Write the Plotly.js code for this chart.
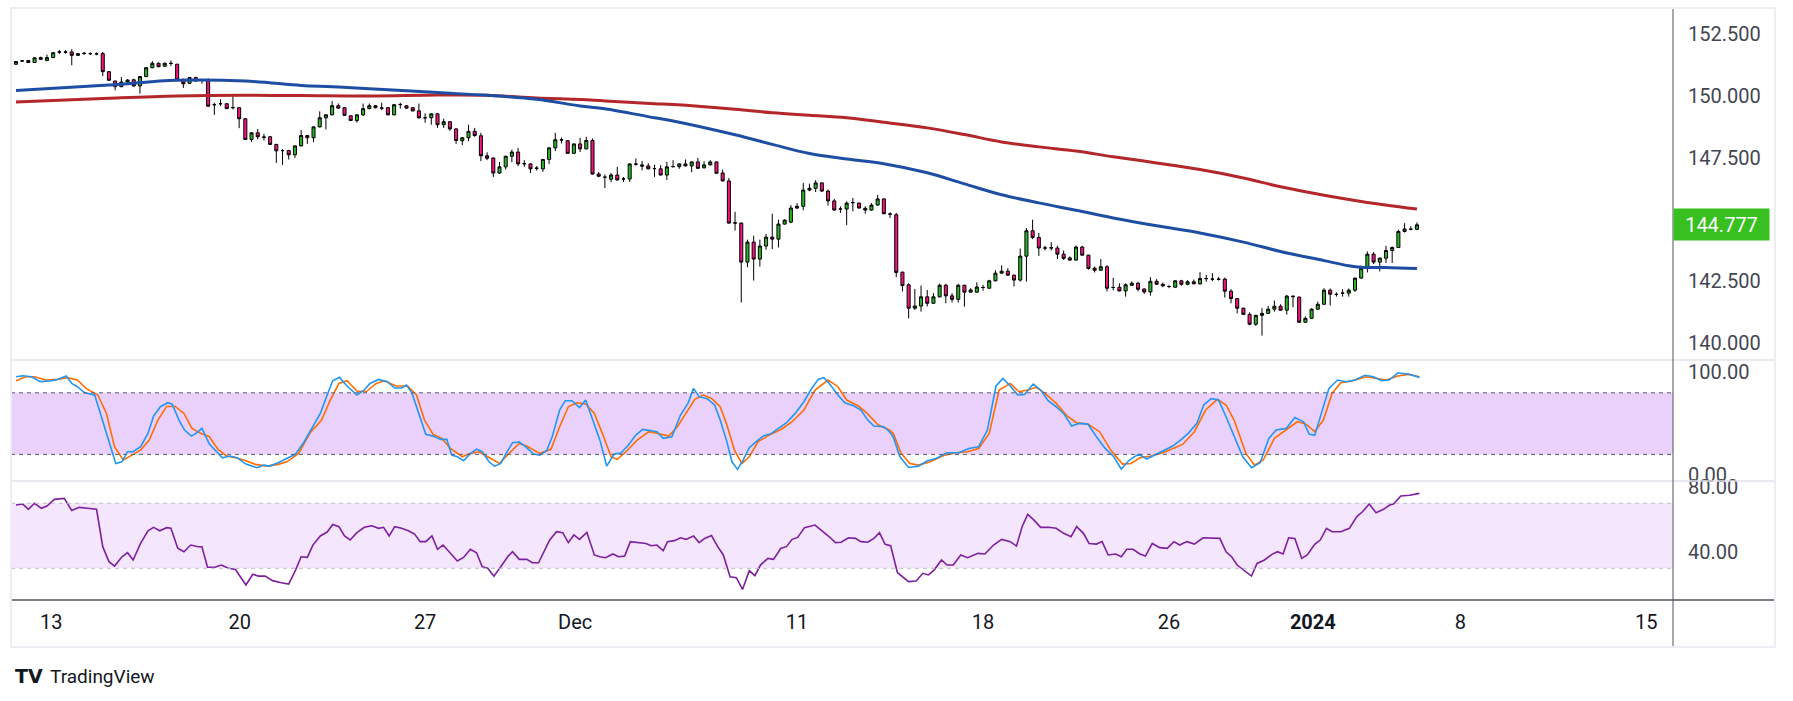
<!DOCTYPE html>
<html><head><meta charset="utf-8">
<script src="https://cdn.plot.ly/plotly-3.0.1.min.js"></script>
<style>html,body{margin:0;padding:0;background:#fff;overflow:hidden;} #chart{width:1793px;height:701px;}</style>
</head><body><div id="chart"></div>
<script>
// ---- 4H candles, bar index 0..226 (Nov 10 2023 -> Jan 5 2024) ----
const opens = [151.29,151.42,151.44,151.36,151.56,151.44,151.56,151.78,151.79,151.79,
151.65,151.73,151.72,151.72,151.72,150.99,150.61,150.38,150.57,150.66,
150.41,150.79,151.15,151.33,151.21,151.33,151.29,150.68,150.52,150.75,
150.63,150.65,149.65,149.69,149.69,149.53,149.53,149.08,148.24,148.51,
148.34,148.35,148.04,147.79,147.79,147.62,147.98,148.40,148.31,148.75,
149.12,149.24,149.61,149.53,149.20,149.01,149.24,149.49,149.61,149.52,
149.53,149.24,149.65,149.61,149.53,149.40,149.12,149.12,149.28,148.84,
148.96,148.67,148.19,148.31,148.57,148.39,147.58,147.49,146.88,147.13,
147.56,147.73,147.25,147.25,147.07,147.05,147.43,147.90,148.23,148.19,
147.68,148.06,147.86,148.20,146.84,146.71,146.63,146.80,146.64,146.64,
147.24,147.21,147.17,147.06,147.05,146.80,147.14,147.14,147.25,147.17,
147.33,147.09,147.21,147.33,146.88,146.56,144.85,144.85,143.27,144.08,
143.39,143.92,144.28,144.20,144.81,144.89,145.46,145.53,146.19,146.26,
146.48,146.15,145.75,145.42,145.42,145.68,145.66,145.45,145.38,145.58,
145.83,145.22,145.19,142.86,142.35,141.40,141.49,141.86,141.60,141.86,
142.33,141.90,141.76,142.33,142.05,142.05,142.24,142.21,142.51,142.82,
142.90,142.74,142.54,143.51,144.54,144.27,143.84,143.84,143.84,143.59,
143.44,143.35,143.88,143.55,143.02,142.94,143.08,142.24,142.25,142.10,
142.33,142.41,142.18,142.06,142.49,142.37,142.28,142.25,142.51,142.37,
142.47,142.39,142.60,142.58,142.58,142.58,142.09,141.79,141.40,141.15,
140.75,141.11,141.19,141.36,141.48,141.32,141.87,141.85,140.83,140.99,
141.36,141.56,142.13,141.96,142.01,142.01,142.13,142.62,143.02,143.59,
143.27,143.43,143.74,143.86,144.51,144.60,144.60];
const highs = [151.42,151.46,151.46,151.57,151.60,151.68,151.78,151.87,151.86,151.90,
151.74,151.79,151.77,151.77,151.79,151.00,150.62,150.77,150.68,150.70,
150.80,151.16,151.42,151.36,151.36,151.44,151.31,150.70,150.77,150.78,
150.68,150.72,149.73,149.87,149.71,150.03,149.55,149.10,148.53,148.67,
148.47,148.37,148.06,147.85,147.82,148.00,148.62,148.42,148.77,149.38,
149.26,149.80,149.70,149.55,149.22,149.26,149.70,149.70,149.64,149.73,
149.55,149.67,149.73,149.63,149.55,149.70,149.30,149.30,149.30,149.08,
148.98,148.69,148.33,148.84,148.71,148.51,147.72,147.51,147.33,147.58,
147.83,147.90,147.40,147.27,147.16,147.45,147.92,148.51,148.32,148.21,
148.08,148.31,148.35,148.28,146.92,146.82,146.88,147.13,146.72,147.27,
147.47,147.37,147.28,147.21,147.20,147.33,147.40,147.27,147.43,147.35,
147.49,147.36,147.40,147.35,147.02,146.68,145.31,144.87,144.18,144.34,
144.18,144.41,145.23,144.99,145.01,145.58,145.66,146.48,146.45,146.59,
146.50,146.21,145.83,145.53,145.73,145.87,145.68,145.53,145.66,145.99,
145.85,145.29,145.26,142.88,142.41,142.18,142.32,142.14,142.01,142.39,
142.39,142.01,142.39,142.35,142.21,142.45,142.35,142.55,142.94,143.14,
143.02,142.76,143.82,144.65,144.99,144.45,143.93,144.08,143.93,143.74,
143.50,143.94,143.93,143.57,143.09,143.39,143.14,142.63,142.41,142.41,
142.49,142.47,142.20,142.66,142.58,142.44,142.33,142.53,142.55,142.54,
142.56,142.86,142.75,142.82,142.66,142.64,142.17,141.81,141.42,141.23,
141.13,141.40,141.49,141.71,141.56,141.94,141.93,141.87,141.06,141.40,
141.67,142.21,142.20,142.04,142.17,142.20,142.64,143.12,143.70,143.67,
143.45,143.93,143.90,144.58,144.85,144.72,144.88];
const lows = [151.27,151.38,151.34,151.34,151.47,151.42,151.54,151.71,151.72,151.25,
151.63,151.67,151.67,151.66,150.81,150.62,150.23,150.36,150.55,150.38,
150.10,150.77,151.13,151.17,151.19,151.22,150.63,150.33,150.49,150.59,
150.50,149.57,149.24,149.59,149.47,149.46,148.70,148.22,148.14,148.24,
148.20,148.02,147.29,147.21,147.43,147.49,147.96,148.06,148.13,148.73,
148.65,149.22,149.49,149.20,148.99,148.92,149.19,149.47,149.50,149.43,
149.22,149.22,149.49,149.49,149.38,149.08,148.92,148.84,148.71,148.71,
148.59,148.06,148.01,148.17,148.35,147.36,147.40,146.72,146.84,147.02,
147.32,147.16,147.13,146.88,146.98,146.93,147.25,147.77,148.08,147.66,
147.66,147.73,147.84,146.82,146.71,146.27,146.51,146.58,146.52,146.52,
147.18,146.99,147.03,146.72,146.78,146.60,147.11,147.05,147.15,146.91,
147.05,147.07,147.19,146.84,146.54,144.83,144.55,141.63,143.06,142.52,
143.09,143.77,143.80,143.86,144.79,144.85,145.42,145.37,146.14,146.11,
146.11,145.56,145.35,145.26,144.77,145.33,145.44,145.23,145.35,145.56,
145.21,145.06,142.66,142.08,140.99,141.33,141.26,141.47,141.58,141.84,
141.60,141.63,141.63,141.46,142.03,142.03,142.11,142.19,142.49,142.80,
142.72,142.28,142.48,142.48,144.20,143.52,143.74,143.74,143.39,143.36,
143.33,143.33,143.53,142.96,142.85,142.92,142.08,142.12,142.08,141.87,
142.31,142.09,141.98,141.91,142.35,142.25,142.21,142.23,142.31,142.33,
142.37,142.35,142.47,142.50,142.52,141.83,141.60,141.19,141.13,140.71,
140.68,140.29,141.17,141.26,141.30,141.14,141.44,140.81,140.81,140.97,
141.34,141.54,141.51,141.87,141.87,141.87,142.06,142.60,142.85,143.19,
142.89,143.23,143.23,143.84,144.47,144.56,144.56];
const closes = [151.40,151.43,151.36,151.55,151.49,151.56,151.76,151.79,151.78,151.65,
151.72,151.73,151.72,151.71,150.99,150.64,150.38,150.57,150.65,150.41,
150.79,151.15,151.33,151.19,151.33,151.32,150.65,150.50,150.75,150.61,
150.64,149.59,149.65,149.69,149.49,149.53,149.08,148.24,148.51,148.35,
148.33,148.04,147.78,147.79,147.62,147.98,148.40,148.31,148.75,149.12,
149.24,149.61,149.51,149.22,149.01,149.24,149.49,149.61,149.53,149.51,
149.24,149.65,149.66,149.51,149.40,149.12,149.12,149.28,148.84,148.96,
148.67,148.20,148.31,148.57,148.40,147.58,147.48,146.88,147.13,147.56,
147.73,147.25,147.26,147.05,147.08,147.43,147.90,148.23,148.22,147.68,
148.06,147.86,148.20,146.84,146.75,146.71,146.80,146.60,146.64,147.25,
147.24,147.16,147.05,147.06,146.80,147.13,147.14,147.25,147.17,147.33,
147.07,147.21,147.33,146.87,146.56,144.85,144.86,143.27,144.08,143.39,
143.92,144.28,144.20,144.81,144.97,145.46,145.53,146.19,146.26,146.48,
146.15,145.75,145.38,145.42,145.66,145.68,145.46,145.38,145.58,145.83,
145.23,145.21,142.85,142.32,141.40,141.49,141.86,141.60,141.86,142.33,
141.90,141.76,142.33,142.05,142.14,142.26,142.24,142.51,142.82,142.90,
142.74,142.54,143.51,144.54,144.27,143.84,143.84,143.85,143.59,143.42,
143.35,143.88,143.55,143.01,142.94,143.08,142.21,142.24,142.10,142.35,
142.41,142.17,142.06,142.49,142.37,142.31,142.28,142.51,142.37,142.47,
142.39,142.60,142.60,142.58,142.57,142.09,141.79,141.40,141.15,140.75,
141.11,141.19,141.36,141.48,141.32,141.89,141.88,140.83,140.99,141.36,
141.56,142.13,141.97,141.96,142.01,142.13,142.62,143.02,143.59,143.27,
143.43,143.74,143.86,144.51,144.61,144.60,144.78];
const lastPrice = 144.777;

// ---- moving averages (read at sample bars) ----
const maBlueBars = [0,15,26,37,46,51,57,68,76,84,91,95,103,106,116,122,128,134,140,147,153,159,165,171,177,184,191,198,204,211,215,217,221,226];
const maBlue = [150.23,150.45,150.64,150.61,150.43,150.38,150.30,150.14,150.03,149.87,149.60,149.49,149.12,148.99,148.43,148.04,147.67,147.45,147.26,146.89,146.44,146.00,145.67,145.37,145.06,144.74,144.45,144.08,143.70,143.33,143.12,143.06,143.05,143.01];
const maRedBars = [0,15,26,37,46,57,68,76,84,91,95,103,106,116,122,128,134,140,147,153,159,165,171,177,184,191,198,204,211,217,226];
const maRed = [149.76,149.91,150.00,150.03,150.02,150.00,150.04,150.03,149.92,149.86,149.80,149.69,149.66,149.47,149.32,149.22,149.12,148.94,148.71,148.44,148.14,147.94,147.77,147.54,147.29,147.02,146.68,146.32,145.98,145.73,145.42];

// ---- stochastic %K (blue) ----
const stochKBars = [0,1.1,2.5,3.9,5.8,6.7,8.1,9,9.9,11.1,12.7,13.6,15,16.1,17.1,18,18.9,20.1,21.3,22.2,23.3,24.5,25.2,26.3,27.2,28.3,29.2,30,31.2,32.1,33.3,34.5,35.7,37.1,38.9,40,40.9,42.3,43.7,45.1,46.5,47.9,49.1,50.2,51.1,52.2,53.4,55,56.2,57.1,58.5,59.9,61.1,62.2,63,63.9,65,66.1,67.3,68.5,69.5,70.3,71.2,72.2,73.2,74.3,75.2,76.3,77.2,78.2,79.1,80.1,81.2,82.2,83.5,84.5,85.6,86.5,87.7,88.6,89.7,90.9,91.9,92.8,94.2,95.3,96.5,97.6,98.8,100,101.1,102.5,103.4,104.4,105.8,107.2,108.4,109.3,110.2,111.5,112.7,113.6,114.6,115.5,116.4,117.3,118.3,119.5,120.6,121.7,122.9,124.3,125.7,127.1,128.2,129.4,130.3,131.2,132.6,133.7,135.2,136.3,137.4,138.4,140,140.9,141.5,142.6,144,145.6,147,148.4,150.2,152.1,153.7,155.3,156.7,158.1,159.2,160.4,161.6,162.7,164.1,165.3,166.5,167.8,169,170.3,171.5,172.9,174.3,175.7,177.1,178.3,179.6,181.1,182.4,183.9,185.2,186.6,188,189.1,190.5,191.6,192.8,194,195.2,196.5,197.9,199.3,200.7,202.1,203.3,204.9,206.3,207.7,208.6,209.5,210.7,211.8,213.2,214.6,216,217.6,219,220.3,221.5,222.9,224.6,226.4];
const stochK = [95.6,96.6,95.6,90.8,91.7,93,96.3,89.1,85.9,80,77.8,59.9,33.9,11.2,12.8,22.6,22.6,27.5,40.5,57.3,66.4,70.3,69,53.4,43.7,37.8,41.1,45.3,30.1,24.2,16.7,18.4,16.7,10.6,7,9.6,8.6,11.9,16.1,20.3,32.3,46.9,59.9,77.8,91.7,95,86.6,77.8,82.7,89.1,93,90.8,84.6,84.6,87.5,79.4,59.9,39.5,37.8,34.6,34.6,19.3,17.7,13.8,20.3,25.2,22.6,12.8,8.6,11.2,21.3,31.4,32,27.5,20.3,19.3,23.6,37.2,63.2,72.3,72.3,65.5,72.9,58.3,33.9,8.6,20.3,21.3,29.1,38.8,44.3,43,42.1,35.6,37.2,58.3,69.7,84.3,76.2,74.2,68.1,53.4,33.9,12.8,5.4,14.5,26.5,33,38.2,39.8,45.3,50.8,59.9,71.3,82.7,93,94.7,89.1,77.8,70.3,67.1,63.2,53.4,47.6,46.9,42.1,37.2,17.7,7.3,8.6,13.8,16.1,21.6,21.6,25.8,27.5,43.7,86.6,94,86.6,77.8,78.4,88.5,82.7,72.3,66.4,59.9,47.6,50.2,49.5,37.2,25.8,17.7,5.7,14.5,20.3,15.5,20,24.2,28.1,34.6,40.5,50.2,68.1,74.2,72.9,56.7,37.2,17.7,7,11.9,35.6,43.7,45.3,56,51.8,39.8,38.5,61.6,84.3,92.4,90.8,92.4,97,95.6,91.7,92.4,99.2,98.2,95];

// ---- stochastic %D (orange) ----
const stochDBars = [0,1.6,3,4.8,6.7,8.3,9.9,11.3,13.2,14.6,15.9,17.3,18.7,20.1,21.5,22.9,24.3,25.7,27.1,28.4,29.8,31.2,32.6,34,35.4,36.8,38.6,40.5,42.3,43.7,45.6,47.4,49.3,50.7,52.1,53.4,55,56.5,58.1,59.5,61.3,63.2,64.6,65.9,67.3,68.7,70.1,72,73.3,74.7,76.1,78,79.8,81.2,82.6,84.5,86.3,87.7,89.1,90.5,91.9,93.3,94.7,96,97,98.4,100.2,102.1,103.4,105.3,106.7,108.1,109.5,110.9,112.2,113.6,114.6,115.9,117.1,118.3,119.7,121.5,123.4,125.2,127.1,128.9,131,132.6,134,135.9,137.3,139.1,140.9,141.5,142.8,144.2,145.6,147.5,149.8,151.6,153.5,155.3,157,158.6,160.4,161.8,163.2,164.6,166,167.8,169.7,171.1,172.9,174.8,176.6,178.5,179.9,181.3,183.1,185,186.8,188.2,190.1,191.9,193.8,195.2,196.5,198.4,199.8,201.2,203,204.9,206.7,208.1,209.5,210.9,212.3,213.7,215.5,217.8,219.7,221.1,222.9,224.6,226.4];
const stochD = [91.7,95.6,95.6,92.4,93,94.7,92.4,84.3,77.8,59.9,27.5,14.5,19.3,24.2,33.9,53.4,66.7,66.7,59.9,45.3,40.5,37.2,24.9,18.4,16.7,14.5,10.3,8.6,10.3,12.8,21,40.5,53.4,72.9,89.1,91.7,81.7,81,89.1,91.7,86.6,86.6,77.8,53.4,39.5,35.6,25.8,17.7,21,22.6,17.7,11.2,22.6,30.7,27.5,21,24.9,46.9,66.4,70.3,69,59.9,38.8,17.7,15.1,22.6,33.9,42.1,40.5,37.8,46.9,59.9,73.6,77.8,74.5,66.4,50.2,24.2,11.2,17.7,32.3,38.8,44.3,51.8,63.2,82.7,92.4,85.9,72.9,67.1,59.9,48.6,43.7,40.5,21,11.2,9.6,12.8,19.3,21.6,22.6,25.8,40.5,82.7,89.1,81,82.7,85.3,79.4,69.7,56.7,50.8,49.5,42.1,24.2,10.6,11.2,16.7,18.4,21.6,25.8,29.7,42.1,63.2,73.6,68.1,53.4,21,9.6,14.5,35.6,44.3,51.8,49.5,42.1,53.4,79.4,89.8,91.4,95.6,94,92.4,96.3,97.9,95.6];

// ---- RSI (purple) ----
const rsiBars = [0,1.1,2,3,4.1,5,6.2,7.8,9,10.2,11.5,13,14,15,15.9,17.1,18,18.9,20.1,21.3,22.2,23.2,24.3,25,26.1,27.1,28.2,29.4,30,30.9,32.1,33.1,34.3,35.4,36.3,37.1,38.2,39.1,40.2,41.4,42.8,44,45.1,46,47,47.9,49.1,50.2,51.1,52.1,53,53.9,55,56.2,57.4,58.5,59.3,60.2,61.1,62.2,63.3,64.3,65.2,66.1,67.1,68,68.9,69.8,71.2,72.2,73.3,74.3,75.2,76.1,77.1,78.2,79.4,80.1,81.2,82.4,83.3,84.3,85.2,86.1,87.2,88.2,89.1,90,90.9,92.1,93.3,94.2,95.1,96.3,97.2,98.2,99.1,100.2,101.6,102.5,103.4,104.4,105.1,106.2,107.2,108.1,109.3,110.2,111.1,112.2,113.2,114.1,115.2,116.2,117.2,118.3,119.2,120.1,121.3,122.2,123.4,124.3,125.2,126.1,127.2,128.9,130.3,131.2,132.2,133.1,134.3,135.4,136.3,137.4,138.4,139.3,140.2,141.1,142.2,144,145.2,146.3,147.2,148.1,149.3,150.2,151.2,152.4,153.5,155.2,156.3,157.7,159,160.4,161.4,162.3,163.2,164.1,165.3,166.6,167.8,169,170.2,171.1,172.2,173.1,174.3,175.2,176.2,177.4,178.3,179.2,180.2,181.3,182.2,183.3,184.5,185.7,186.8,187.7,188.9,190.1,191.5,192.8,194.2,195.2,196.1,197,198.1,199.3,200.2,201.4,202.6,203.5,204.4,205.3,206.3,207.4,208.3,209.5,210.4,211.4,212.3,213.7,215.1,216.3,217.2,218.3,219.4,220.6,221.6,222.2,223.4,224.8,226.4];
const rsi = [68.9,69.5,66.3,70,66.9,68.3,72.4,73,65.5,67.5,66.9,66.3,43.3,34.1,31.4,37.1,39.6,35.1,45.3,53.1,55.2,53.1,55,54.6,42.3,40.2,44.3,43.3,43.3,30.6,30.6,32,30,29.3,24.2,19.7,26.3,25.2,25.2,22.4,21.1,20.3,28.9,37.1,36.7,44.3,49.9,52.3,57,55.6,49.9,47.4,51.9,55.2,56.2,54.6,55.2,49.9,55.6,54.6,53.1,51.1,46.4,46.4,49.9,41.7,44.3,40.2,34.5,36.7,41.7,39.6,31,30,25.2,31,37.5,40.2,35.5,35.5,33.4,33.4,40.2,47.4,52.5,51.9,45.8,50.5,47.8,52.1,38.2,37.1,36.5,38.8,37.1,37.5,46.4,46,45.3,43.9,44.3,40.8,46.4,47,48.8,47.8,49.9,45.8,48.4,50.1,43.3,38.2,24.8,24.2,17,28.5,25.5,32,36.1,35.5,42.3,43.3,47.8,49,55,56.6,52.5,49.4,45.8,46,48.8,48.4,46.4,46,48.4,51.9,44.7,43.9,27.3,21.8,22.2,26.9,25.9,28.9,35.1,32,32,38.2,36.5,39.2,38.8,44.3,47.8,46.4,43.7,55.6,63.2,60.1,55.2,55.2,54.6,51.5,49.4,55.6,51.5,45.3,44.9,46.4,38.2,38.8,37.1,41.7,41.7,38.8,37.5,45.3,42.7,42.3,46.4,44.3,46.4,44.9,48.8,48.8,48.4,40.2,37.1,32,28.9,25.2,33,35.1,38.6,40.2,38.8,48.8,48.4,36.1,38.2,44.7,47.4,54.6,52.5,52.5,54.6,61.8,64.8,69.5,64.2,66.3,68.9,69.5,74.5,74.9,76.1];

// ---- x axis labels (bar positions of the date ticks) ----
const tickBars = [5.7,36.1,66,90.2,126,156,186,209.2,233,263];
const tickLabels = ['13','20','27','Dec','11','18','26','<b>2024</b>','8','15'];
const priceTicks = [140,142.5,147.5,150,152.5];
const stochTicks = [0,100];
const rsiTicks = [40,80];

// ---- layout geometry ----
const W = 1793, H = 701;
const M = {l: 11, r: 120, t: 9, b: 101};
const plotW = W - M.l - M.r, plotH = H - M.t - M.b;
const px = x => (x - M.l) / plotW;
const py = y => (H - M.b - y) / plotH;
const FONT = 'Roboto, "Liberation Sans", Arial, sans-serif';
const bars = opens.map((_, i) => i);

const traces = [
  {type:'scatter', mode:'lines', x:maRedBars, y:maRed, yaxis:'y', line:{color:'#b3262a', width:3, shape:'spline', smoothing:1}, hoverinfo:'skip'},
  {type:'scatter', mode:'lines', x:maBlueBars, y:maBlue, yaxis:'y', line:{color:'#1d4ea3', width:3, shape:'spline', smoothing:1}, hoverinfo:'skip'},
  {type:'candlestick', x:bars, open:opens, high:highs, low:lows, close:closes, yaxis:'y', whiskerwidth:0,
   increasing:{line:{color:'#000000', width:1}, fillcolor:'#2db52a'},
   decreasing:{line:{color:'#000000', width:1}, fillcolor:'#f5137e'}, hoverinfo:'skip'},
  {type:'scatter', mode:'lines', x:stochDBars, y:stochD, yaxis:'y2', line:{color:'#ff6d00', width:1.6}, hoverinfo:'skip'},
  {type:'scatter', mode:'lines', x:stochKBars, y:stochK, yaxis:'y2', line:{color:'#2196f3', width:1.6}, hoverinfo:'skip'},
  {type:'scatter', mode:'lines', x:rsiBars, y:rsi, yaxis:'y3', line:{color:'#7e1f9e', width:1.6}, hoverinfo:'skip'}
];

const yCommon = {side:'right', anchor:'x', showgrid:false, zeroline:false, showline:false, ticks:'',
  ticklabelstandoff:14, tickfont:{family:FONT, size:20, color:'#434651'}, fixedrange:true};

const shapes = [
  {type:'rect', xref:'paper', yref:'y2', x0:0, x1:1, y0:20, y1:80, fillcolor:'#e9d1fc', line:{width:0}, layer:'below'},
  {type:'rect', xref:'paper', yref:'y3', x0:0, x1:1, y0:30, y1:70, fillcolor:'#f4e6fd', line:{width:0}, layer:'below'},
  {type:'line', xref:'paper', yref:'y2', x0:0, x1:1, y0:80, y1:80, line:{color:'#5d606b', width:1, dash:'4px,4px'}},
  {type:'line', xref:'paper', yref:'y2', x0:0, x1:1, y0:20, y1:20, line:{color:'#5d606b', width:1, dash:'4px,4px'}},
  {type:'line', xref:'paper', yref:'y3', x0:0, x1:1, y0:70, y1:70, line:{color:'#b9bcc4', width:1, dash:'4px,4px'}},
  {type:'line', xref:'paper', yref:'y3', x0:0, x1:1, y0:30, y1:30, line:{color:'#b9bcc4', width:1, dash:'4px,4px'}},
  {type:'line', xref:'paper', yref:'paper', x0:0, x1:px(1774), y0:py(360), y1:py(360), line:{color:'#e0e3eb', width:1.5}},
  {type:'line', xref:'paper', yref:'paper', x0:0, x1:px(1774), y0:py(481), y1:py(481), line:{color:'#e0e3eb', width:1.5}},
  {type:'line', xref:'paper', yref:'paper', x0:0, x1:px(1774), y0:py(600), y1:py(600), line:{color:'#50535e', width:1.5}},
  {type:'line', xref:'paper', yref:'paper', x0:1, x1:1, y0:py(647), y1:py(9), line:{color:'#50535e', width:1}},
  {type:'rect', xref:'paper', yref:'paper', x0:px(11), x1:px(1775), y0:py(647), y1:py(8), fillcolor:'rgba(0,0,0,0)', line:{color:'#eceef3', width:2}}
];

const annotations = [
  {xref:'paper', yref:'y', x:1, y:lastPrice, xanchor:'left', yanchor:'middle', showarrow:false,
   text:lastPrice.toFixed(3), bgcolor:'#37c01f', font:{family:FONT, size:20, color:'#ffffff'},
   width:91, height:27, borderpad:2, align:'center'},
  {xref:'paper', yref:'paper', x:px(13), y:py(676), xanchor:'left', yanchor:'middle', showarrow:false,
   text:'<b>TV</b>', font:{family:'"DejaVu Sans", sans-serif', size:19, color:'#131722'}},
  {xref:'paper', yref:'paper', x:px(48), y:py(676), xanchor:'left', yanchor:'middle', showarrow:false,
   text:'TradingView', font:{family:FONT, size:19, color:'#131722'}}
];

const layout = {
  width:W, height:H, margin:{l:M.l, r:M.r, t:M.t, b:M.b, pad:0},
  paper_bgcolor:'#ffffff', plot_bgcolor:'#ffffff', showlegend:false, hovermode:false,
  xaxis:{domain:[0,1], anchor:'y3', range:[-0.8, 267.3], tickvals:tickBars, ticktext:tickLabels,
    showgrid:false, zeroline:false, showline:false, ticks:'', ticklabelstandoff:8,
    tickfont:{family:FONT, size:20, color:'#131722'}, rangeslider:{visible:false}, fixedrange:true},
  yaxis:Object.assign({}, yCommon, {domain:[py(360), 1], range:[139.3, 153.53], tickvals:priceTicks, tickformat:'.3f'}),
  yaxis2:Object.assign({}, yCommon, {domain:[py(481), py(360)], range:[-5.9, 111.9], tickvals:stochTicks, tickformat:'.2f'}),
  yaxis3:Object.assign({}, yCommon, {domain:[0, py(481)], range:[10.5, 83.7], tickvals:rsiTicks, tickformat:'.2f'}),
  shapes:shapes, annotations:annotations
};

Plotly.newPlot('chart', traces, layout, {staticPlot:true, displayModeBar:false});
</script>
</body></html>
